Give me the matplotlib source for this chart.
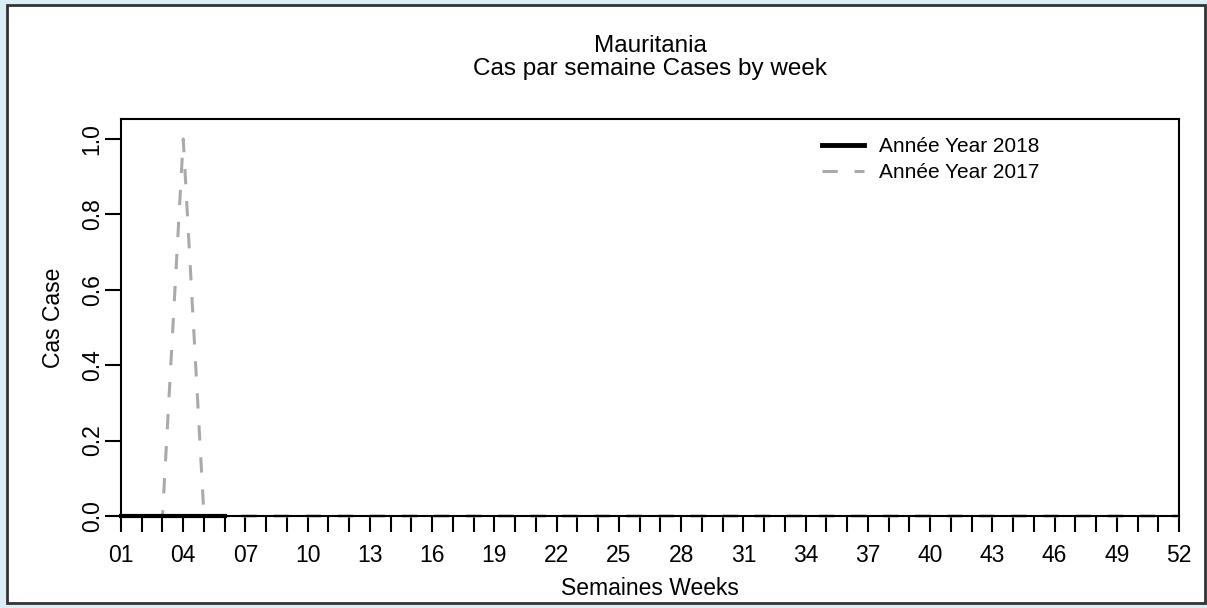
import matplotlib
matplotlib.use("Agg")
import matplotlib.pyplot as plt
from matplotlib.patches import Rectangle

plt.rcParams['font.family'] = ['Liberation Sans', 'DejaVu Sans']

weeks_2018 = [1, 2, 3, 4, 5, 6]
cases_2018 = [0, 0, 0, 0, 0, 0]
weeks_2017 = list(range(1, 53))
cases_2017 = [0, 0, 0, 1] + [0] * 48
xtick_weeks = list(range(1, 53, 3))
xtick_labels = [f"{w:02d}" for w in xtick_weeks]
yticks = [0.0, 0.2, 0.4, 0.6, 0.8, 1.0]

W, H = 1207, 608
fig = plt.figure(figsize=(W / 100, H / 100), dpi=100)
fig.patch.set_facecolor('#dceef5')
fig.patches.append(Rectangle((7 / W, 5 / H), (1205 - 7) / W, (603 - 5) / H,
                             transform=fig.transFigure, facecolor='white',
                             edgecolor='#333333', linewidth=2, zorder=-10))

L, R, T, B = 121, 1179, 119, 516
ax = fig.add_axes([L / W, 1 - B / H, (R - L) / W, (B - T) / H])
ax.set_zorder(1)
ax.plot(weeks_2017, cases_2017, color='#aaaaaa', linewidth=2.2,
        linestyle=(0, (5, 5.5)), label='Année Year 2017', zorder=2, clip_on=False)
ax.plot(weeks_2018, cases_2018, color='black', linewidth=3,
        label='Année Year 2018', zorder=3, clip_on=False)

ax.set_xlim(1, 52)
ax.set_ylim(0, 1.053)
ax.set_xticks(list(range(1, 53)), minor=True)
ax.set_xticks(xtick_weeks)
ax.set_xticklabels(xtick_labels)
ax.set_yticks(yticks)
ax.set_yticklabels([f"{v:.1f}" for v in yticks], rotation=90, va='center')
ax.tick_params(axis='both', which='both', direction='out', length=11.5, width=1.5,
               labelsize=16.5, colors='black')
ax.tick_params(axis='x', which='major', pad=9)
ax.tick_params(axis='y', pad=1)
for s in ax.spines.values():
    s.set_linewidth(1.5)
    s.set_zorder(2.5)

ax.set_xlabel('Semaines Weeks', fontsize=16.5, va='baseline')
ax.xaxis.set_label_coords(0.5, (B - 595) / (B - T))
ax.set_ylabel('Cas Case', fontsize=16.5, va='center')
ax.yaxis.set_label_coords((53 - L) / (R - L), 0.5)

cx = (L + R) / 2 / W
fig.text(cx, 1 - 52 / H, 'Mauritania', ha='center', va='baseline', fontsize=17.5)
fig.text(cx, 1 - 75 / H, 'Cas par semaine Cases by week', ha='center', va='baseline', fontsize=17.5)

handles, labels = ax.get_legend_handles_labels()
leg = ax.legend([handles[1], handles[0]], [labels[1], labels[0]], loc='upper left',
                bbox_to_anchor=(822 / W, 1 - 137 / H), bbox_transform=fig.transFigure,
                frameon=False, fontsize=15, borderpad=0, borderaxespad=0,
                handlelength=2.0, handletextpad=0.72, labelspacing=0.35)
leg.get_lines()[0].set_linewidth(3.5)

fig.savefig('out.png', dpi=100, facecolor=fig.get_facecolor())
